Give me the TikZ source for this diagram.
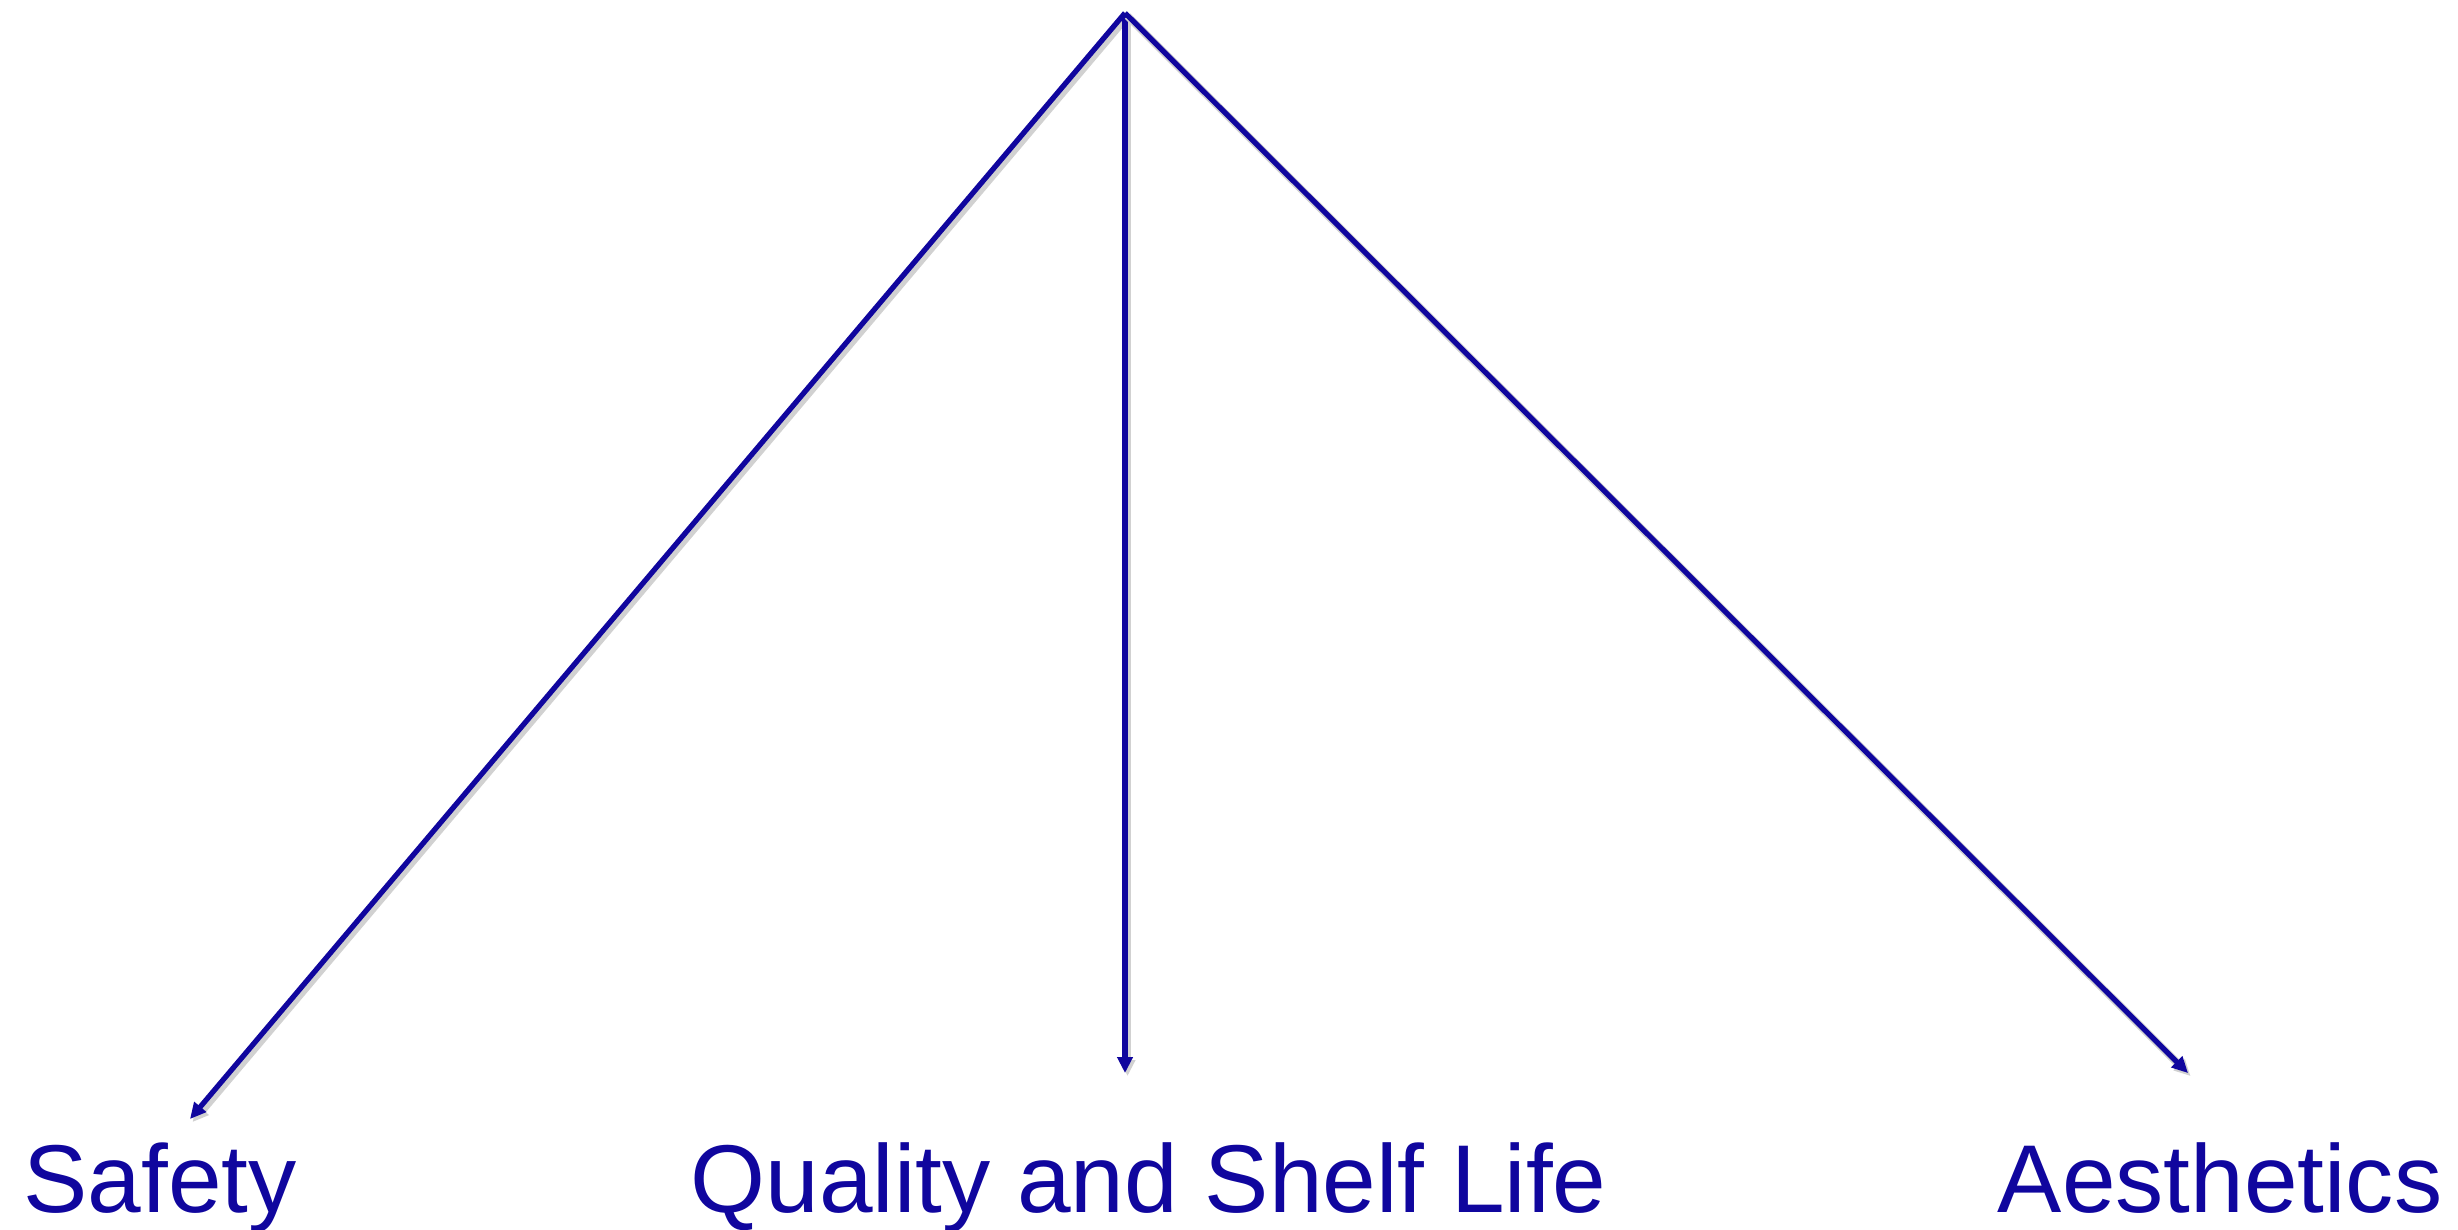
\documentclass[tikz,border=0pt]{standalone}
\usepackage{fontspec}
\setmainfont{Liberation Sans}
\usetikzlibrary{arrows.meta}
\definecolor{inkblue}{RGB}{16,6,158}
\tikzset{
  leaf/.style={text=inkblue,inner sep=0pt,font=\fontsize{27.4}{32}\selectfont},
  branch/.style={draw=inkblue,line width=1.5pt,-{Triangle[length=0.16cm,width=0.15cm]},
    preaction={draw=black!18,line width=2.2pt,transform canvas={shift={(0.025cm,-0.03cm)}}}}
}
\begin{document}
\begin{tikzpicture}[x=0.01cm,y=-0.01cm]
\useasboundingbox (0,0) rectangle (2458,1229);
\coordinate (top) at (1125,13);

\node[leaf,anchor=base west] (safety) at (23,1212) {Safety};
\node[leaf,anchor=base west] (quality) at (690,1212) {Quality and Shelf Life};
\node[leaf,anchor=base east] (aesth) at (2443,1212) {Aesthetics};

\coordinate (endS) at (190,1119);
\coordinate (endQ) at (1125,1073);
\coordinate (endA) at (2188,1073);

\draw[branch] (top) -- (endS);
\draw[branch] (top) -- (endQ);
\draw[branch] (top) -- (endA);
\end{tikzpicture}
\end{document}
